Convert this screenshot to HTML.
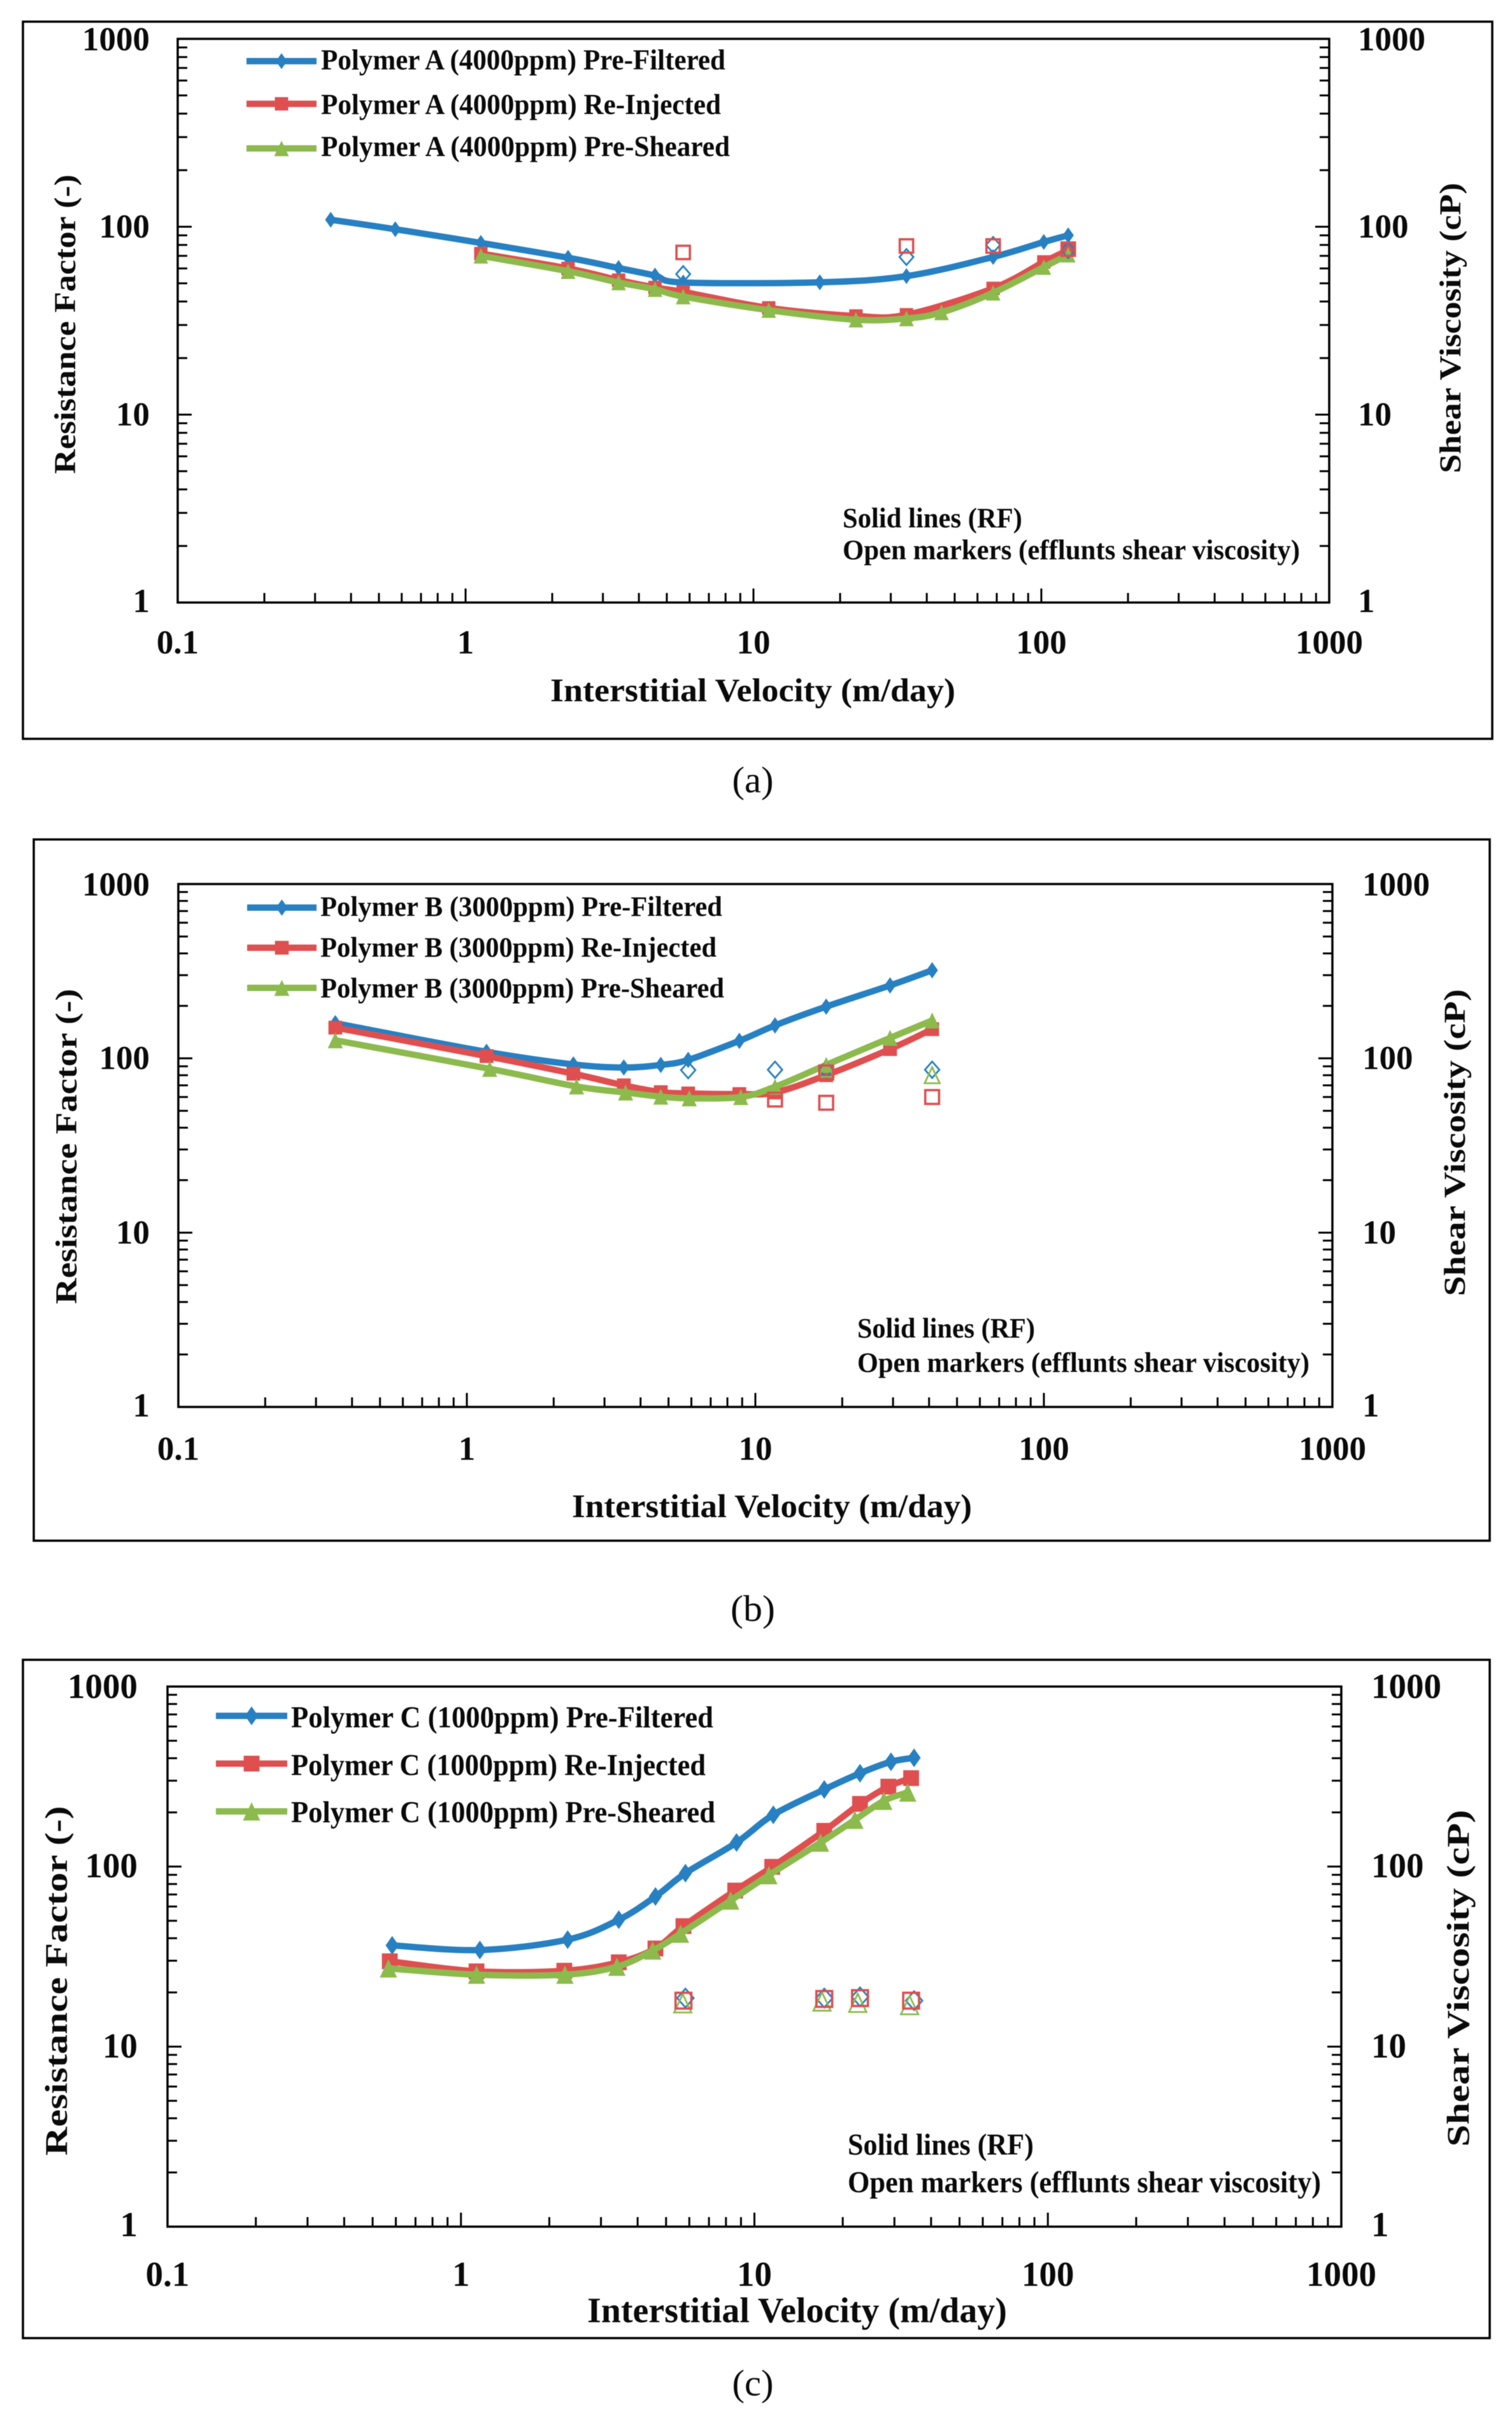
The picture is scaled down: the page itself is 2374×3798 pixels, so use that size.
<!DOCTYPE html>
<html lang="en">
<head>
<meta charset="utf-8">
<title>Resistance factor vs interstitial velocity</title>
<style>
html,body{margin:0;padding:0;background:#fff;}
#figure{display:block;filter:blur(0.6px);}
text{font-family:"Liberation Serif",serif;fill:#0a0a0a;}
.b{font-weight:bold;}
</style>
</head>
<body>
<svg id="figure" xmlns="http://www.w3.org/2000/svg" width="2374" height="3798" viewBox="0 0 2374 3798">
<rect x="0" y="0" width="2374" height="3798" fill="#fff"/>

<g id="panel-a">
<rect x="36" y="34" width="2307" height="1126" fill="none" stroke="#000" stroke-width="3.5"/>
<text class="b" transform="translate(118 509) rotate(-90)" text-anchor="middle" font-size="48" textLength="470" lengthAdjust="spacingAndGlyphs">Resistance Factor (-)</text>
<text class="b" transform="translate(2293 515) rotate(-90)" text-anchor="middle" font-size="48" textLength="456" lengthAdjust="spacingAndGlyphs">Shear Viscosity (cP)</text>
<text class="b" x="864" y="1101" font-size="52" textLength="636" lengthAdjust="spacingAndGlyphs">Interstitial Velocity (m/day)</text>
<text class="b" x="504" y="109" font-size="46" textLength="635" lengthAdjust="spacingAndGlyphs">Polymer A (4000ppm) Pre-Filtered</text>
<text class="b" x="504" y="179" font-size="46" textLength="628" lengthAdjust="spacingAndGlyphs">Polymer A (4000ppm) Re-Injected</text>
<text class="b" x="504" y="245" font-size="46" textLength="642" lengthAdjust="spacingAndGlyphs">Polymer A (4000ppm) Pre-Sheared</text>
<text class="b" x="1323" y="828" font-size="44" textLength="282" lengthAdjust="spacingAndGlyphs">Solid lines (RF)</text>
<text class="b" x="1323" y="878" font-size="44" textLength="718" lengthAdjust="spacingAndGlyphs">Open markers (efflunts shear viscosity)</text>
<text x="1182" y="1244" font-size="58" text-anchor="middle" textLength="65" lengthAdjust="spacingAndGlyphs">(a)</text>
</g>

<g id="panel-b">
<rect x="53" y="1318" width="2286" height="1101" fill="none" stroke="#000" stroke-width="3.5"/>
<text class="b" transform="translate(120 1800) rotate(-90)" text-anchor="middle" font-size="48" textLength="495" lengthAdjust="spacingAndGlyphs">Resistance Factor (-)</text>
<text class="b" transform="translate(2300 1794) rotate(-90)" text-anchor="middle" font-size="48" textLength="482" lengthAdjust="spacingAndGlyphs">Shear Viscosity (cP)</text>
<text class="b" x="898" y="2382" font-size="52" textLength="628" lengthAdjust="spacingAndGlyphs">Interstitial Velocity (m/day)</text>
<text class="b" x="503" y="1438" font-size="44" textLength="631" lengthAdjust="spacingAndGlyphs">Polymer B (3000ppm) Pre-Filtered</text>
<text class="b" x="503" y="1502" font-size="44" textLength="622" lengthAdjust="spacingAndGlyphs">Polymer B (3000ppm) Re-Injected</text>
<text class="b" x="503" y="1566" font-size="44" textLength="634" lengthAdjust="spacingAndGlyphs">Polymer B (3000ppm) Pre-Sheared</text>
<text class="b" x="1346" y="2100" font-size="44" textLength="279" lengthAdjust="spacingAndGlyphs">Solid lines (RF)</text>
<text class="b" x="1346" y="2154" font-size="44" textLength="710" lengthAdjust="spacingAndGlyphs">Open markers (efflunts shear viscosity)</text>
<text x="1182" y="2545" font-size="58" text-anchor="middle" textLength="70" lengthAdjust="spacingAndGlyphs">(b)</text>
</g>

<g id="panel-c">
<rect x="36" y="2606" width="2303" height="1065" fill="none" stroke="#000" stroke-width="3.5"/>
<text class="b" transform="translate(105 3110) rotate(-90)" text-anchor="middle" font-size="50" textLength="549" lengthAdjust="spacingAndGlyphs">Resistance Factor (-)</text>
<text class="b" transform="translate(2306 3106) rotate(-90)" text-anchor="middle" font-size="50" textLength="529" lengthAdjust="spacingAndGlyphs">Shear Viscosity (cP)</text>
<text class="b" x="922" y="3646" font-size="56" textLength="659" lengthAdjust="spacingAndGlyphs">Interstitial Velocity (m/day)</text>
<text class="b" x="457" y="2712" font-size="48" textLength="663" lengthAdjust="spacingAndGlyphs">Polymer C (1000ppm) Pre-Filtered</text>
<text class="b" x="457" y="2787" font-size="48" textLength="651" lengthAdjust="spacingAndGlyphs">Polymer C (1000ppm) Re-Injected</text>
<text class="b" x="457" y="2861" font-size="48" textLength="666" lengthAdjust="spacingAndGlyphs">Polymer C (1000ppm) Pre-Sheared</text>
<text class="b" x="1331" y="3383" font-size="48" textLength="292" lengthAdjust="spacingAndGlyphs">Solid lines (RF)</text>
<text class="b" x="1331" y="3442" font-size="48" textLength="743" lengthAdjust="spacingAndGlyphs">Open markers (efflunts shear viscosity)</text>
<text x="1182" y="3761" font-size="58" text-anchor="middle" textLength="65" lengthAdjust="spacingAndGlyphs">(c)</text>
</g>
</svg>

<script>
// Tick labels
const xTickValues = [0.1, 1, 10, 100, 1000];
const yTickValues = [1, 10, 100, 1000];

// Panel A: Polymer A (4000 ppm)
const aFilteredVelocity = [0.34, 0.57, 1.13, 2.27, 3.4, 4.55, 5.7, 17, 34, 68, 102, 124];
const aFilteredRF = [109, 97, 82, 68.4, 60.3, 55, 50.5, 50.6, 54.6, 69, 83, 90];
const aInjectedVelocity = [1.13, 2.27, 3.4, 4.55, 5.7, 11.3, 22.7, 34, 68, 102, 124];
const aInjectedRF = [72, 60, 52, 47.5, 45, 37, 33.5, 34, 47, 65, 75];
const aShearedVelocity = [1.13, 2.27, 3.4, 4.55, 5.7, 11.3, 22.7, 34, 45, 68, 102, 124];
const aShearedRF = [70, 58, 50.5, 46.5, 42.5, 36, 32, 32.5, 35, 44.5, 61, 71];
const aOpenFilteredVelocity = [5.7, 34, 68, 124];
const aOpenFilteredViscosity = [56, 69, 80, 75];
const aOpenInjectedVelocity = [5.7, 34, 68, 124];
const aOpenInjectedViscosity = [73, 79, 79, 76];
const aOpenShearedVelocity = [];
const aOpenShearedViscosity = [];

// Panel B: Polymer B (3000 ppm)
const bFilteredVelocity = [0.35, 1.17, 2.34, 3.5, 4.7, 5.85, 8.8, 11.7, 17.6, 29.3, 41];
const bFilteredRF = [159, 109, 92.3, 88.6, 91.7, 98, 126, 154.5, 198, 262, 320];
const bInjectedVelocity = [0.35, 1.17, 2.34, 3.5, 4.7, 5.85, 8.8, 11.7, 17.6, 29.3, 41];
const bInjectedRF = [150, 103, 81.6, 70, 64, 62.9, 62.4, 63.7, 80, 113, 147];
const bShearedVelocity = [0.35, 1.2, 2.4, 3.55, 4.7, 5.9, 8.9, 11.7, 17.6, 29.3, 41];
const bShearedRF = [127, 87, 69, 63.7, 60.3, 59, 60, 68.7, 91.7, 131, 165];
const bOpenFilteredVelocity = [5.85, 11.7, 17.6, 41];
const bOpenFilteredViscosity = [85.6, 86, 86, 86];
const bOpenInjectedVelocity = [11.7, 17.6, 41, 17.6];
const bOpenInjectedViscosity = [58, 55.6, 60, 83];
const bOpenShearedVelocity = [17.6, 41];
const bOpenShearedViscosity = [87, 80];

// Panel C: Polymer C (1000 ppm)
const cFilteredVelocity = [0.583, 1.16, 2.31, 3.45, 4.6, 5.82, 8.69, 11.6, 17.3, 22.9, 29.2, 35];
const cFilteredRF = [36.5, 34.4, 39.3, 50.7, 68.2, 91.9, 136, 194, 268, 330, 382, 402];
const cInjectedVelocity = [0.572, 1.13, 2.25, 3.45, 4.6, 5.73, 8.6, 11.5, 17.3, 22.9, 28.6, 34.2];
const cInjectedRF = [29.8, 26.2, 26.4, 29.4, 35.1, 46.7, 73.6, 99.7, 158, 223, 278, 310];
const cShearedVelocity = [0.566, 1.13, 2.26, 3.4, 4.5, 5.6, 8.3, 11.2, 16.8, 22, 27.6, 33.3];
const cShearedRF = [27.2, 25.1, 25.1, 27.8, 34.2, 42.4, 64.8, 89.6, 136, 182, 232, 258];
const cOpenFilteredVelocity = [5.82, 17.3, 22.9, 35];
const cOpenFilteredViscosity = [18.6, 18.6, 18.9, 18];
const cOpenInjectedVelocity = [5.73, 17.3, 22.9, 34.2];
const cOpenInjectedViscosity = [18, 18.4, 18.6, 18];
const cOpenShearedVelocity = [5.7, 17, 22.5, 33.8];
const cOpenShearedViscosity = [17.4, 17.8, 17.5, 17];

const BLUE = '#2780c2';
const RED = '#df4f4f';
const GREEN = '#8cba4d';
const NS = 'http://www.w3.org/2000/svg';

function mk(parent, tag, attrs) {
  const el = document.createElementNS(NS, tag);
  for (const k in attrs) el.setAttribute(k, attrs[k]);
  parent.appendChild(el);
  return el;
}

function smoothPath(pts) {
  let d = 'M' + pts[0][0].toFixed(1) + ' ' + pts[0][1].toFixed(1);
  for (let i = 0; i < pts.length - 1; i++) {
    const p0 = pts[Math.max(i - 1, 0)], p1 = pts[i], p2 = pts[i + 1], p3 = pts[Math.min(i + 2, pts.length - 1)];
    const c1x = p1[0] + (p2[0] - p0[0]) / 6, c1y = p1[1] + (p2[1] - p0[1]) / 6;
    const c2x = p2[0] - (p3[0] - p1[0]) / 6, c2y = p2[1] - (p3[1] - p1[1]) / 6;
    d += 'C' + c1x.toFixed(1) + ' ' + c1y.toFixed(1) + ' ' + c2x.toFixed(1) + ' ' + c2y.toFixed(1) + ' ' + p2[0].toFixed(1) + ' ' + p2[1].toFixed(1);
  }
  return d;
}

function marker(parent, shape, cx, cy, s, color, open) {
  let el;
  const style = open
    ? {fill: 'none', stroke: color, 'stroke-width': shape === 'square' ? 3.6 : 2.8}
    : {fill: color};
  if (shape === 'diamond') {
    const w = (open ? 11 : 8.8) * s, h = 12.5 * s;
    el = mk(parent, 'polygon', Object.assign({points: (cx - w) + ',' + cy + ' ' + cx + ',' + (cy - h) + ' ' + (cx + w) + ',' + cy + ' ' + cx + ',' + (cy + h)}, style));
  } else if (shape === 'square') {
    const w = 10.5 * s, h = 10.5 * s;
    el = mk(parent, 'rect', Object.assign({x: cx - w, y: cy - h, width: 2 * w, height: 2 * h}, style));
  } else {
    const w = 11.5 * s, h = 12.2 * s;
    el = mk(parent, 'polygon', Object.assign({points: (cx - w) + ',' + (cy + h) + ' ' + cx + ',' + (cy - h) + ' ' + (cx + w) + ',' + (cy + h)}, style));
  }
  return el;
}

function drawPanel(cfg) {
  const root = document.getElementById(cfg.id);
  const g = document.createElementNS(NS, 'g');
  
  
  root.insertBefore(g, root.children[1]);

  const xScale = v => cfg.x0 + (Math.log10(v) + 1) / 4 * (cfg.x1 - cfg.x0);
  const yScale = v => cfg.y1 - Math.log10(v) / 3 * (cfg.y1 - cfg.y0);

  const border = mk(g, 'rect', {x: cfg.x0, y: cfg.y0, width: cfg.x1 - cfg.x0, height: cfg.y1 - cfg.y0, fill: 'none', stroke: '#000', 'stroke-width': 3.5});
  
  

  // ticks
  [0.1, 1, 10, 100].forEach(dec => {
    for (let m = 1; m <= 9; m++) {
      const tx = xScale(dec * m);
      const tick = mk(g, 'line', {x1: tx, x2: tx, y1: cfg.y1, y2: cfg.y1 - (m === 1 ? 22 : 15), stroke: '#000', 'stroke-width': 3});
      
      
    }
  });
  [1, 10, 100].forEach(dec => {
    for (let m = 1; m <= 9; m++) {
      const ty = yScale(dec * m);
      const left = mk(g, 'line', {x1: cfg.x0, x2: cfg.x0 + (m === 1 ? 22 : 15), y1: ty, y2: ty, stroke: '#000', 'stroke-width': 3});
      
      
      const right = mk(g, 'line', {x1: cfg.x1, x2: cfg.x1 - (m === 1 ? 22 : 15), y1: ty, y2: ty, stroke: '#000', 'stroke-width': 3});
      
      
    }
  });

  // tick labels
  xTickValues.forEach(v => {
    const t = mk(g, 'text', {x: xScale(v), y: cfg.xLabelY, 'text-anchor': 'middle', 'font-size': cfg.tickFont, 'font-weight': 'bold'});
    t.textContent = String(v);
    
    
  });
  yTickValues.forEach(v => {
    const off = 17 + (v === 1000 ? 1 : v === 1 ? -2 : 0);
    const l = mk(g, 'text', {x: cfg.leftLabelX, y: yScale(v) + off, 'text-anchor': 'end', 'font-size': cfg.tickFont, 'font-weight': 'bold'});
    l.textContent = String(v);
    
    
    const r = mk(g, 'text', {x: cfg.rightLabelX, y: yScale(v) + off, 'text-anchor': 'start', 'font-size': cfg.tickFont, 'font-weight': 'bold'});
    r.textContent = String(v);
    
    
  });

  // solid RF series
  cfg.series.forEach(s => {
    const pts = s.x.map((v, i) => [xScale(v), yScale(s.y[i])]);
    const path = mk(g, 'path', {d: smoothPath(pts), fill: 'none', stroke: s.color, 'stroke-width': 10, 'stroke-linejoin': 'round'});
    
    
    pts.forEach(p => {
      const m = marker(g, s.shape, p[0], p[1], cfg.markerScale, s.color, false);
      
      
    });
  });

  // open viscosity markers
  cfg.open.forEach(s => {
    s.x.forEach((v, i) => {
      const m = marker(g, s.shape, xScale(v), yScale(s.y[i]), cfg.markerScale, s.color, true);
      
      
    });
  });

  // legend swatches
  cfg.series.forEach((s, i) => {
    const ly = cfg.legendY[i];
    const line = mk(g, 'line', {x1: cfg.legendX0, x2: cfg.legendX1, y1: ly, y2: ly, stroke: s.color, 'stroke-width': 10});
    
    
    const m = marker(g, s.shape, (cfg.legendX0 + cfg.legendX1) / 2, ly, cfg.markerScale, s.color, false);
    
    
  });
}

drawPanel({
  id: 'panel-a', x0: 279, x1: 2087, y0: 61, y1: 946, markerScale: 1, tickFont: 53,
  xLabelY: 1026, leftLabelX: 235, rightLabelX: 2132,
  legendX0: 387, legendX1: 497, legendY: [96, 163, 233],
  series: [
    {key: 'pre-filtered', color: BLUE, shape: 'diamond', x: aFilteredVelocity, y: aFilteredRF},
    {key: 're-injected', color: RED, shape: 'square', x: aInjectedVelocity, y: aInjectedRF},
    {key: 'pre-sheared', color: GREEN, shape: 'triangle', x: aShearedVelocity, y: aShearedRF}
  ],
  open: [
    {key: 'pre-filtered', color: BLUE, shape: 'diamond', x: aOpenFilteredVelocity, y: aOpenFilteredViscosity},
    {key: 'pre-sheared', color: GREEN, shape: 'triangle', x: aOpenShearedVelocity, y: aOpenShearedViscosity},
    {key: 're-injected', color: RED, shape: 'square', x: aOpenInjectedVelocity, y: aOpenInjectedViscosity}
  ]
});

drawPanel({
  id: 'panel-b', x0: 280, x1: 2092, y0: 1388, y1: 2209, markerScale: 1.03, tickFont: 53,
  xLabelY: 2292, leftLabelX: 235, rightLabelX: 2139,
  legendX0: 388, legendX1: 497, legendY: [1425, 1488, 1551],
  series: [
    {key: 'pre-filtered', color: BLUE, shape: 'diamond', x: bFilteredVelocity, y: bFilteredRF},
    {key: 're-injected', color: RED, shape: 'square', x: bInjectedVelocity, y: bInjectedRF},
    {key: 'pre-sheared', color: GREEN, shape: 'triangle', x: bShearedVelocity, y: bShearedRF}
  ],
  open: [
    {key: 'pre-filtered', color: BLUE, shape: 'diamond', x: bOpenFilteredVelocity, y: bOpenFilteredViscosity},
    {key: 'pre-sheared', color: GREEN, shape: 'triangle', x: bOpenShearedVelocity, y: bOpenShearedViscosity},
    {key: 're-injected', color: RED, shape: 'square', x: bOpenInjectedVelocity, y: bOpenInjectedViscosity}
  ]
});

drawPanel({
  id: 'panel-c', x0: 263, x1: 2106, y0: 2648, y1: 3496, markerScale: 1.18, tickFont: 55,
  xLabelY: 3589, leftLabelX: 216, rightLabelX: 2153,
  legendX0: 339, legendX1: 451, legendY: [2694, 2769, 2844],
  series: [
    {key: 'pre-filtered', color: BLUE, shape: 'diamond', x: cFilteredVelocity, y: cFilteredRF},
    {key: 're-injected', color: RED, shape: 'square', x: cInjectedVelocity, y: cInjectedRF},
    {key: 'pre-sheared', color: GREEN, shape: 'triangle', x: cShearedVelocity, y: cShearedRF}
  ],
  open: [
    {key: 'pre-filtered', color: BLUE, shape: 'diamond', x: cOpenFilteredVelocity, y: cOpenFilteredViscosity},
    {key: 'pre-sheared', color: GREEN, shape: 'triangle', x: cOpenShearedVelocity, y: cOpenShearedViscosity},
    {key: 're-injected', color: RED, shape: 'square', x: cOpenInjectedVelocity, y: cOpenInjectedViscosity}
  ]
});
</script>
</body>
</html>
